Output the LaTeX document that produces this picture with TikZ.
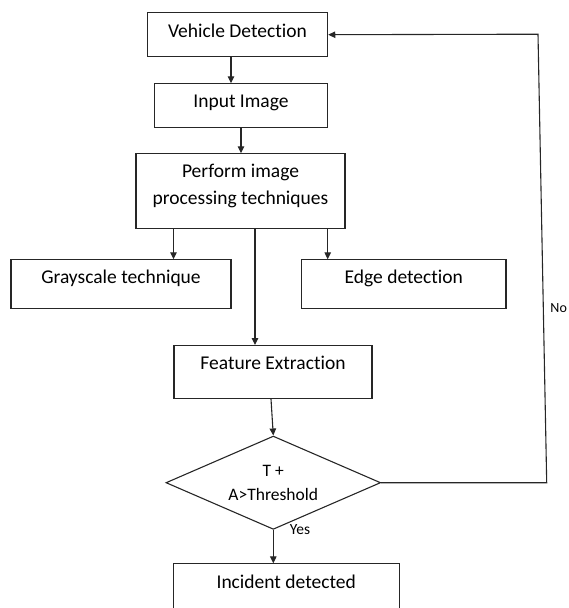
\documentclass[tikz,border=0pt]{standalone}
\usepackage{fontspec}
\setmainfont[Ligatures=NoCommon]{Carlito}
\usetikzlibrary{arrows.meta, positioning, shapes.geometric}

\begin{document}
\begin{tikzpicture}[x=1pt,y=-1pt,
    line width=1.1pt,
    stage/.style={draw=black!85, rectangle, inner sep=0pt, anchor=north,
      font=\fontsize{19.5}{27.3}\selectfont, align=center, text height=24pt},
    decide/.style={draw=black!85, diamond, inner sep=0pt, aspect=2.29,
      minimum width=214.7pt, minimum height=93.3pt,
      font=\fontsize{17.5}{24}\selectfont, align=center},
    flow/.style={draw=black!85, -{Triangle[length=7pt,width=6.5pt]}},
    tag/.style={font=\fontsize{15.5}{18}\selectfont}]
  \useasboundingbox (0,0) rectangle (568,608);
  % boxes, top to bottom
  \node[stage, minimum width=180.4pt, text height=25pt, text depth=18.7pt] (veh) at (237.5,12.3) {Vehicle Detection};
  \node[stage, minimum width=173.4pt, text depth=19.4pt] (inp) at (241,83.3) {Input Image};
  \node[stage, minimum width=209pt, text height=50.7pt, text depth=24.3pt] (perf) at (240.5,153.3) {Perform image\\processing techniques};
  \node[stage, minimum width=220pt, text height=23.4pt, text depth=25.6pt] (gray) at (121,259.3) {Grayscale technique};
  \node[stage, minimum width=204.3pt, text height=23.4pt, text depth=25.6pt] (edge) at (403.8,259.3) {Edge detection};
  \node[stage, minimum width=198pt, text height=24.3pt, text depth=28.7pt] (feat) at (273,345) {Feature Extraction};
  \node[decide] (dec) at (273.3,482.7) {T +\\A>Threshold};
  \node[stage, minimum width=225.7pt, text height=24.4pt, text depth=24.5pt] (inc) at (286.2,563.3) {Incident detected};
  % arrows
  \draw[flow] ([xshift=-6.5pt]veh.south) -- ([xshift=-6.5pt]veh.south |- inp.north);
  \draw[flow] (inp.south) -- (inp.south |- perf.north);
  \draw[flow] ([xshift=-67pt]perf.south) -- ([xshift=-67pt]perf.south |- gray.north);
  \draw[flow] ([xshift=87.2pt]perf.south) -- ([xshift=87.2pt]perf.south |- edge.north);
  \draw[flow] ([xshift=14.5pt]perf.south) -- ([xshift=14.5pt]perf.south |- feat.north);
  \draw[flow] ([xshift=-2pt]feat.south) -- (dec.north);
  \draw[flow] (dec.south) -- (dec.south |- inc.north);
  % loop back when not detected
  \coordinate (nobot) at (546.7,482.7);
  \coordinate (notop) at (538,34.2);
  \draw[flow] (dec.east) -- (nobot) -- (notop) -- (veh.east);
  \node[tag, font=\fontsize{14}{16}\selectfont] (no) at (558.7,308.5) {No};
  \node[tag] (yes) at (300,529.5) {Yes};
\end{tikzpicture}
\end{document}
